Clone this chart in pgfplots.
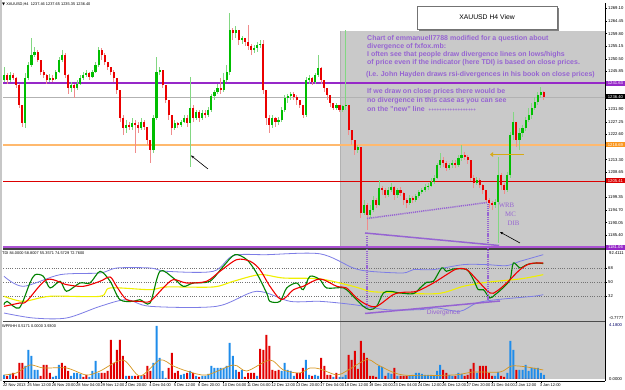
\documentclass[border=0pt]{standalone}
\usepackage{pgfplots}
\pgfplotsset{compat=1.18}
\usepackage{pgfplotstable}
\usepackage{fontspec}
\setmainfont{Liberation Sans}
\newfontfamily\serifz{Liberation Serif}
\newfontfamily\dejavu{DejaVu Sans}
\usetikzlibrary{arrows.meta}

\definecolor{bull}{RGB}{0,190,0}
\definecolor{bear}{RGB}{235,0,0}
\definecolor{bullwick}{RGB}{130,215,130}
\definecolor{bearwick}{RGB}{240,140,140}
\definecolor{boxgray}{RGB}{201,201,201}
\definecolor{note}{RGB}{150,100,210}
\definecolor{lvlpurple}{RGB}{150,40,200}
\definecolor{lvlorange}{RGB}{255,185,110}
\definecolor{lblorange}{RGB}{250,150,30}
\definecolor{lvlred}{RGB}{220,0,0}
\definecolor{band}{RGB}{125,125,230}
\definecolor{tdiyellow}{RGB}{240,240,0}
\definecolor{tdigreen}{RGB}{0,130,0}
\definecolor{tdired}{RGB}{240,0,0}
\definecolor{volblue}{RGB}{30,140,235}
\definecolor{volred}{RGB}{225,0,0}
\definecolor{volma}{RGB}{215,150,30}
\definecolor{goldarrow}{RGB}{215,170,20}

\pgfplotstableread{
i o h l c
0 1242.7 1247.5 1241.9 1244.5
1 1244.5 1245.3 1241.2 1242.7
2 1242.7 1245.6 1241.9 1244.5
3 1244.5 1245.3 1242.7 1243.4
4 1243.4 1243.8 1239.7 1240.8
5 1240.8 1241.2 1232.4 1233.5
6 1233.5 1233.5 1225.3 1226.8
7 1226.8 1245.3 1225.0 1243.4
8 1243.4 1249.3 1242.7 1248.2
9 1248.2 1258.2 1247.5 1251.9
10 1251.9 1254.9 1251.2 1253.0
11 1253.0 1253.8 1249.3 1250.1
12 1250.1 1250.1 1244.5 1245.6
13 1245.6 1246.4 1243.4 1244.5
14 1244.5 1244.9 1241.2 1242.7
15 1242.7 1244.9 1241.9 1243.4
16 1243.4 1244.5 1241.9 1243.0
17 1243.0 1246.4 1242.7 1245.6
18 1245.6 1251.2 1245.3 1250.1
19 1250.1 1253.8 1249.3 1251.9
20 1251.9 1252.5 1243.4 1244.5
21 1244.5 1244.9 1237.5 1239.7
22 1239.7 1241.9 1238.3 1240.8
23 1240.8 1241.2 1236.0 1239.7
24 1239.7 1242.7 1239.0 1241.2
25 1241.2 1244.5 1240.8 1243.4
26 1243.4 1245.6 1242.7 1244.5
27 1244.5 1246.4 1243.8 1245.3
28 1245.3 1245.6 1242.7 1243.8
29 1243.8 1246.4 1243.4 1245.6
30 1245.6 1249.3 1245.3 1248.2
31 1248.2 1254.9 1247.5 1253.8
32 1253.8 1254.5 1250.1 1251.9
33 1251.9 1252.5 1248.2 1249.3
34 1249.3 1249.3 1246.4 1247.5
35 1247.5 1247.5 1244.5 1245.6
36 1245.6 1246.4 1241.9 1243.4
37 1243.4 1243.4 1237.5 1239.0
38 1239.0 1239.0 1227.2 1228.7
39 1228.7 1229.8 1222.4 1225.0
40 1225.0 1227.9 1223.1 1226.1
41 1226.1 1227.2 1224.2 1225.3
42 1225.3 1228.7 1224.2 1226.8
43 1226.8 1227.9 1215.7 1226.1
44 1226.1 1227.2 1223.1 1225.0
45 1225.0 1228.7 1224.2 1227.2
46 1227.2 1227.9 1224.2 1225.3
47 1225.3 1225.3 1218.7 1220.5
48 1220.5 1220.5 1212.1 1216.9
49 1216.9 1229.8 1215.7 1228.7
50 1228.7 1251.2 1227.9 1245.6
51 1245.6 1247.5 1244.5 1246.4
52 1246.4 1246.4 1239.7 1240.8
53 1240.8 1240.8 1234.2 1235.3
54 1235.3 1235.3 1227.9 1229.8
55 1229.8 1229.8 1222.4 1225.0
56 1225.0 1227.9 1224.2 1226.8
57 1226.8 1227.2 1225.0 1226.1
58 1226.1 1227.9 1225.3 1227.2
59 1227.2 1229.8 1226.8 1228.7
60 1228.7 1229.8 1225.3 1226.8
61 1226.8 1243.8 1210.6 1232.4
62 1232.4 1233.5 1227.2 1228.7
63 1228.7 1231.6 1227.9 1230.9
64 1230.9 1231.6 1227.2 1228.7
65 1228.7 1231.6 1227.9 1230.5
66 1230.5 1231.6 1228.7 1229.8
67 1229.8 1232.7 1229.0 1231.6
68 1231.6 1237.5 1230.9 1236.8
69 1236.8 1239.0 1235.3 1238.3
70 1238.3 1241.2 1237.5 1239.7
71 1239.7 1243.4 1237.5 1239.0
72 1239.0 1245.3 1238.3 1242.7
73 1242.7 1248.2 1241.9 1245.6
74 1245.6 1267.4 1244.5 1261.1
75 1261.1 1262.0 1257.4 1260.0
76 1260.0 1262.5 1258.2 1261.1
77 1261.1 1261.1 1255.6 1257.4
78 1257.4 1259.0 1256.0 1258.2
79 1258.2 1258.2 1255.2 1256.7
80 1256.7 1263.0 1253.8 1255.2
81 1255.2 1256.0 1251.9 1253.8
82 1253.8 1255.6 1252.5 1254.5
83 1254.5 1256.7 1253.0 1255.6
84 1255.6 1257.4 1254.5 1256.0
85 1256.0 1257.4 1237.5 1239.0
86 1239.0 1239.0 1226.1 1228.7
87 1228.7 1229.8 1223.1 1226.1
88 1226.1 1229.8 1225.0 1228.7
89 1228.7 1229.0 1225.3 1227.2
90 1227.2 1229.0 1226.1 1227.9
91 1227.9 1232.7 1227.2 1231.6
92 1231.6 1237.1 1230.9 1236.0
93 1236.0 1237.5 1234.2 1236.8
94 1236.8 1238.3 1235.3 1237.5
95 1237.5 1238.3 1235.3 1236.4
96 1236.4 1237.1 1233.5 1235.3
97 1235.3 1235.3 1232.4 1233.5
98 1233.5 1233.5 1228.7 1229.8
99 1229.8 1243.8 1229.0 1242.7
100 1242.7 1244.5 1241.2 1243.4
101 1243.4 1243.8 1240.8 1241.9
102 1241.9 1245.3 1241.2 1244.5
103 1244.5 1251.9 1243.8 1247.1
104 1247.1 1247.5 1241.2 1242.7
105 1242.7 1242.7 1238.3 1239.7
106 1239.7 1239.7 1235.3 1237.1
107 1237.1 1237.1 1232.7 1234.2
108 1234.2 1234.2 1231.6 1232.4
109 1232.4 1234.2 1231.6 1233.5
110 1233.5 1233.5 1230.9 1231.6
111 1231.6 1233.5 1230.9 1233.1
112 1233.1 1261.1 1231.6 1233.5
113 1233.5 1233.5 1222.4 1224.2
114 1224.2 1224.2 1218.7 1220.5
115 1220.5 1220.5 1215.0 1216.9
116 1216.9 1218.7 1215.7 1218.0
117 1218.0 1218.0 1191.8 1193.6
118 1193.6 1198.4 1192.9 1196.6
119 1196.6 1197.3 1187.3 1192.9
120 1192.9 1196.6 1191.8 1194.7
121 1194.7 1199.9 1194.0 1198.4
122 1198.4 1199.1 1195.4 1196.6
123 1196.6 1205.8 1196.0 1202.8
124 1202.8 1203.6 1200.2 1202.1
125 1202.1 1202.8 1199.1 1200.2
126 1200.2 1203.2 1199.5 1202.1
127 1202.1 1204.7 1201.4 1203.2
128 1203.2 1203.6 1198.4 1200.2
129 1200.2 1202.8 1199.1 1202.1
130 1202.1 1203.2 1199.9 1201.0
131 1201.0 1201.4 1196.6 1198.4
132 1198.4 1199.1 1195.4 1197.3
133 1197.3 1200.2 1196.6 1199.1
134 1199.1 1199.9 1197.3 1198.4
135 1198.4 1200.6 1197.7 1199.9
136 1199.9 1202.1 1199.1 1201.4
137 1201.4 1202.8 1200.6 1202.1
138 1202.1 1204.3 1201.4 1203.2
139 1203.2 1204.7 1202.1 1203.6
140 1203.6 1206.5 1203.2 1205.0
141 1205.0 1207.6 1204.3 1206.5
142 1206.5 1212.1 1206.1 1211.3
143 1211.3 1215.7 1210.2 1213.2
144 1213.2 1214.3 1210.6 1212.1
145 1212.1 1212.8 1209.1 1210.2
146 1210.2 1212.1 1209.5 1211.3
147 1211.3 1213.2 1210.2 1212.1
148 1212.1 1213.2 1210.2 1211.3
149 1211.3 1215.0 1210.6 1213.9
150 1213.9 1218.7 1212.8 1215.0
151 1215.0 1216.1 1213.2 1214.3
152 1214.3 1215.0 1211.7 1213.2
153 1213.2 1213.2 1205.4 1206.5
154 1206.5 1207.6 1202.8 1204.7
155 1204.7 1206.9 1203.9 1205.8
156 1205.8 1206.5 1202.8 1203.9
157 1203.9 1204.3 1200.6 1202.1
158 1202.1 1202.1 1197.3 1198.4
159 1198.4 1199.1 1195.4 1197.3
160 1197.3 1198.0 1194.7 1196.6
161 1196.6 1198.8 1195.4 1197.7
162 1197.7 1214.3 1182.5 1207.6
163 1207.6 1208.3 1202.1 1203.9
164 1203.9 1204.7 1200.6 1202.1
165 1202.1 1208.7 1201.4 1207.6
166 1207.6 1223.5 1206.5 1222.4
167 1222.4 1230.9 1220.5 1227.2
168 1227.2 1227.2 1218.0 1220.5
169 1220.5 1225.0 1216.9 1223.1
170 1223.1 1226.1 1221.6 1225.0
171 1225.0 1229.0 1223.9 1227.9
172 1227.9 1232.4 1227.2 1229.8
173 1229.8 1234.2 1228.3 1232.4
174 1232.4 1236.4 1231.6 1234.6
175 1234.6 1238.3 1233.5 1237.1
176 1237.1 1240.1 1236.0 1238.3
177 1238.3 1238.6 1235.3 1236.4
}\candles

\pgfplotstableread{
i v
0 20.9
1 25.1
5 16.6
8.5 48.7
10.2 59.4
12.9 57.3
15.1 42.3
18.4 50.9
20.5 38.0
24.9 48.7
28.2 48.7
31.5 63.7
34.8 50.9
38.0 27.3
42.4 25.1
44.6 27.3
47.9 23.0
51.1 63.7
55.5 55.1
58.8 44.4
62.1 48.7
67.5 50.9
71.9 70.1
75.7 85.1
79.6 78.7
82.8 61.6
86.1 35.9
87.2 25.1
90.5 25.1
92.7 42.3
96.0 48.7
98.1 40.1
100.3 57.3
103.6 53.0
105.8 42.3
111.3 42.3
114.5 31.6
117.8 18.7
120.0 14.4
122.2 18.7
124.4 35.9
126.6 38.0
129.8 35.9
134.2 35.0
136.4 42.3
138.6 49.6
140.8 50.9
143.5 68.0
145.1 63.7
147.3 66.7
151.7 65.9
153.9 53.0
155.5 40.1
157.2 40.1
159.3 29.4
161.0 33.7
163.2 41.0
165.9 53.0
167.0 74.4
169.2 68.0
171.4 72.3
174.6 74.4
176.8 73.6
}\tdigreen

\pgfplotstableread{
i v
0 18.7
5.2 23.0
7.4 25.1
14.0 53.0
20.5 46.6
26.0 44.4
31.5 50.9
34.8 56.4
36.9 44.4
40.2 27.3
44.6 25.1
47.9 25.1
52.2 42.3
55.5 53.0
59.9 48.7
66.4 50.9
70.8 63.7
76.3 78.7
80.7 76.6
83.9 65.9
87.2 44.4
91.0 27.3
94.9 40.1
98.1 44.4
103.6 53.9
109.1 44.4
112.3 42.3
115.6 29.4
118.9 20.9
122.2 18.7
127.6 33.7
130.9 36.7
135.3 38.0
140.8 48.7
145.1 59.4
148.4 66.7
151.7 65.9
155.0 53.0
159.3 35.9
161.5 38.0
164.8 48.7
169.2 65.9
172.5 73.6
176.8 74.4
}\tdired

\pgfplotstableread{
i v
0 31.6
6.3 25.1
15.1 31.6
31.5 31.6
34.8 42.3
47.9 40.1
53.3 43.6
68.6 43.6
75.2 50.9
83.9 59.4
91.6 55.1
103.6 53.9
114.5 44.4
120.0 38.0
125.5 36.7
141.9 35.0
150.6 44.4
158.2 49.6
169.2 53.9
176.8 59.4
}\tdiyel

\pgfplotstableread{
i v
0 57.3
6.3 44.4
18.4 59.4
31.5 61.6
37.0 68.0
47.9 68.0
53.3 63.7
68.6 63.7
75.2 83.9
86.1 85.1
103.6 86.2
114.5 68.0
120.0 63.7
130.9 61.6
134.2 65.9
140.8 65.9
150.6 72.3
158.2 72.3
164.8 71.0
169.2 76.6
176.8 85.1
}\tdiup

\pgfplotstableread{
i v
0 10.1
9.6 3.7
20.5 3.7
31.5 18.7
40.2 27.3
47.9 18.7
69.7 18.7
82.8 38.0
93.8 25.1
103.6 25.1
114.5 20.9
125.5 14.4
136.4 14.4
141.9 16.6
149.5 12.3
155.0 23.0
161.5 27.3
173.5 31.6
176.8 33.7
}\tdilo

\pgfplotstableread{
i b r
0 4 0
1 0 3
2 5 0
3 0 6
4 0 3
5 0 16
6 0 16
7 13 0
8 29 0
9 23 0
10 9 0
11 9 0
12 0 3
13 0 14
14 0 14
15 0 6
16 2 0
17 3 0
18 14 0
19 0 16
20 0 13
21 0 8
22 3 0
23 6 0
24 6 0
25 5 0
26 0 2
27 0 4
28 2 0
29 8 0
30 18 0
31 6 0
32 0 6
33 0 6
34 0 8
35 0 39
36 0 16
37 0 29
38 0 39
39 0 23
40 3 0
41 0 3
42 3 0
43 0 3
44 0 3
45 3 0
46 0 4
47 0 13
48 0 8
49 16 0
50 53 0
51 21 0
52 8 0
53 1 0
54 0 11
55 0 26
56 0 6
57 0 8
58 4 0
59 5 0
60 0 6
61 8 0
62 0 6
63 3 0
64 0 2
65 3 0
66 3 0
67 5 0
68 13 0
69 11 0
70 11 0
71 11 0
72 11 0
73 13 0
74 36 0
75 23 0
76 9 0
77 0 7
78 9 0
79 0 2
80 0 6
81 0 6
82 0 6
83 3 0
84 0 30
85 0 29
86 0 44
87 0 33
88 0 9
89 0 8
90 0 9
91 8 0
92 16 0
93 9 0
94 8 0
95 3 0
96 0 6
97 0 6
98 0 11
99 19 0
100 4 0
101 0 3
102 4 0
103 3 0
104 0 21
105 0 13
106 0 4
107 0 4
108 2 0
109 0 6
110 2 0
111 2 0
112 4 0
113 0 24
114 0 19
115 0 28
116 0 10
117 0 38
118 0 26
119 0 21
120 0 3
121 0 3
122 0 2
123 13 0
124 12 0
125 0 3
126 6 0
127 5 0
128 0 11
129 3 0
130 0 3
131 0 3
132 0 3
133 3 0
134 4 0
135 6 0
136 6 0
137 5 0
138 4 0
139 4 0
140 4 0
141 3 0
142 8 0
143 14 0
144 0 9
145 0 6
146 4 0
147 3 0
148 0 3
149 6 0
150 5 0
151 0 3
152 0 4
153 0 10
154 0 16
155 6 0
156 0 13
157 0 13
158 0 13
159 0 6
160 0 3
161 3 0
162 7 0
163 0 3
164 0 2
165 6 0
166 38 0
167 29 0
168 0 9
169 9 0
170 9 0
171 14 0
172 8 0
173 11 0
174 11 0
175 11 0
176 6 0
177 4 0
}\vol

\pgfplotstableread{
i v
0 4
4 6
8.5 14
12.9 11
20.5 11
27 4
31.5 8
39 19
44.6 3
51.1 19
55.5 13
59.9 8
66.4 4
75.2 14
79.6 8
87.2 19
91.6 9
97 6
100.3 11
103.6 10
109.1 4
112.3 8
117.8 18
120 19
123.3 13
130.9 4
147.3 4
153.9 7
162.6 7
166.4 13
171.4 12
176.8 9
}\volma

\pgfplotsset{
  panel/.style={scale only axis, anchor=south west, width=602pt,
    xmin=-0.33, xmax=197.05,
    axis x line*=bottom, axis y line*=right,
    axis line style={-, black, line width=0.6pt},
    tick align=outside, major tick length=2pt,
    tick style={black, line width=0.4pt},
    yticklabel style={font=\fontsize{4.2}{4.2}\selectfont, inner sep=1pt},
  },
  wick/.style 2 args={draw=none, forget plot,
    error bars/.cd, y dir=both, y explicit, error mark=none,
    error bar style={draw=#1, line width=#2}, /pgfplots/.cd},
}

\begin{document}
\begin{tikzpicture}[x=1pt,y=1pt]
\path[use as bounding box, fill=white] (0,0) rectangle (625,390);
% shaded rectangle object spanning the three panels
\fill[boxgray] (340,11) rectangle (606,359);
\draw[black!30, line width=0.6pt] (340.3,11) -- (340.3,359);
\fill[black!22] (0,9) rectangle (1.6,390);

% ---------- price panel ----------
\begin{axis}[panel, at={(3pt,141pt)}, height=246pt,
  ymin=1180.3, ymax=1271.1, xtick=\empty,
  x axis line style={draw=black!75, line width=1.3pt},
  ytick={1185.40,1190.05,1194.70,1199.35,1208.65,1213.30,1222.60,1227.25,1231.90,1245.85,1250.50,1255.15,1259.80,1264.45,1269.10},
  yticklabels={1185.40,1190.05,1194.70,1199.35,1208.65,1213.30,1222.60,1227.25,1231.90,1245.85,1250.50,1255.15,1259.80,1264.45,1269.10}]
\draw[black!30, line width=0.5pt] (axis cs:-1,1236.4) -- (axis cs:198,1236.4);
\draw[lvlpurple, line width=1.3pt] (axis cs:-1,1241.6) -- (axis cs:198,1241.6);
\draw[lvlorange, line width=1.6pt] (axis cs:-1,1218.7) -- (axis cs:198,1218.7);
\draw[lvlred, line width=0.8pt] (axis cs:-1,1205.4) -- (axis cs:198,1205.4);
\draw[lvlpurple!80, line width=1.6pt] (axis cs:-1,1181.1) -- (axis cs:198,1181.1);
% wicks
\addplot[restrict expr to domain={\thisrow{c}-\thisrow{o}}{0:1000}, wick={bullwick}{0.8pt}]
  table[x=i, y expr={(\thisrow{h}+\thisrow{l})/2}, y error expr={(\thisrow{h}-\thisrow{l})/2}] {\candles};
\addplot[restrict expr to domain={\thisrow{o}-\thisrow{c}}{0.001:1000}, wick={bearwick}{0.8pt}]
  table[x=i, y expr={(\thisrow{h}+\thisrow{l})/2}, y error expr={(\thisrow{h}-\thisrow{l})/2}] {\candles};
% bodies
\addplot[restrict expr to domain={\thisrow{c}-\thisrow{o}}{0:1000}, wick={bull}{2.1pt}]
  table[x=i, y expr={(\thisrow{o}+\thisrow{c})/2}, y error expr={max(abs(\thisrow{c}-\thisrow{o})/2,0.2)}] {\candles};
\addplot[restrict expr to domain={\thisrow{o}-\thisrow{c}}{0.001:1000}, wick={bear}{2.1pt}]
  table[x=i, y expr={(\thisrow{o}+\thisrow{c})/2}, y error expr={max(abs(\thisrow{c}-\thisrow{o})/2,0.2)}] {\candles};
\end{axis}

% ---------- TDI panel ----------
\begin{axis}[panel, at={(3pt,68.5pt)}, height=72.5pt,
  ymin=-0.8, ymax=92.4, xtick=\empty,
  x axis line style={draw=black!70, line width=1.3pt},
  ytick={32,50,68}, yticklabels={32,50,68}]
\draw[black!55, dash pattern=on 1pt off 1.3pt, line width=0.4pt] (axis cs:-1,32) -- (axis cs:198,32);
\draw[black!55, dash pattern=on 1pt off 1.3pt, line width=0.4pt] (axis cs:-1,50) -- (axis cs:198,50);
\draw[black!55, dash pattern=on 1pt off 1.3pt, line width=0.4pt] (axis cs:-1,68) -- (axis cs:198,68);
\addplot[band, line width=0.8pt, smooth, tension=0.5] table[x=i,y=v] {\tdiup};
\addplot[band, line width=0.8pt, smooth, tension=0.5] table[x=i,y=v] {\tdilo};
\addplot[tdiyellow, line width=1.1pt, smooth, tension=0.5] table[x=i,y=v] {\tdiyel};
\addplot[tdigreen, line width=1.1pt, smooth, tension=0.5] table[x=i,y=v] {\tdigreen};
\addplot[tdired, line width=1.1pt, smooth, tension=0.5] table[x=i,y=v] {\tdired};
\end{axis}

% ---------- volume panel ----------
\begin{axis}[panel, at={(3pt,9pt)}, height=59.5pt,
  ymin=-2, ymax=57.5, ytick=\empty,
  xtick={0,8,...,176},
  xticklabels={22 Nov 2013,25 Nov 12:00,26 Nov 20:00,28 Nov 04:00,29 Nov 12:00,2 Dec 20:00,4 Dec 04:00,5 Dec 12:00,6 Dec 20:00,10 Dec 04:00,11 Dec 04:00,12 Dec 12:00,13 Dec 20:00,17 Dec 04:00,18 Dec 12:00,19 Dec 20:00,23 Dec 04:00,24 Dec 12:00,26 Dec 12:00,27 Dec 20:00,31 Dec 04:00,2 Jan 12:00,3 Jan 12:00},
  xticklabel style={font=\fontsize{4}{4}\selectfont, anchor=north west, xshift=-2.2pt, inner sep=1pt}]
\addplot[ybar, bar width=2pt, bar shift=0pt, fill=volblue, draw=none] table[x=i,y=b] {\vol};
\addplot[ybar, bar width=2pt, bar shift=0pt, fill=volred, draw=none] table[x=i,y=r] {\vol};
\addplot[volma, line width=0.7pt, smooth, tension=0.5] table[x=i,y=v] {\volma};
\end{axis}

% ---------- annotations (image pixel coordinates) ----------
\begin{scope}[shift={(0,390)}, x=1pt, y=-1pt]
\node[anchor=west, inner sep=0, font=\fontsize{3.9}{4}\selectfont] at (2,4.5) {{\dejavu ▼} XAUUSD,H4\ \ 1237.46 1237.65 1235.35 1236.40};
\node[anchor=west, inner sep=0, font=\fontsize{3.9}{4}\selectfont] at (2,253.5) {TDI 84.0000 58.8007 55.3571 74.5729 72.7600};
\node[anchor=west, inner sep=0, font=\fontsize{3.9}{4}\selectfont] at (2,326) {WPRHH 0.5171 0.0000 3.9300};
% title box
\fill[black!50] (419,8) rectangle (559,31);
\draw[fill=white, draw=black!55, line width=0.5pt] (417,6) rectangle (557,29);
\node[font=\fontsize{6.8}{8}\selectfont] at (487,17.5) {XAUUSD H4 View};
% note text
\begin{scope}[every node/.style={anchor=west, inner sep=0, text=note, font=\fontsize{7}{8}\selectfont\bfseries}]
\node at (367,38.3) {Chart of emmanuell7788 modified for a question about};
\node at (367,46.7) {divergence of fxfox.mb:};
\node at (367,54.5) {I often see that people draw divergence lines on lows/highs};
\node at (367,62.5) {of price even if the indicator (here TDI) is based on close prices.};
\node at (366,75) {(I.e. John Hayden draws rsi-divergences in his book on close prices)};
\node at (367,91.7) {If we draw on close prices there would be};
\node at (367,100.5) {no divergence in this case as you can see};
\node at (367,108.7) {on the "new" line\ \ {\fontsize{4.5}{5}\selectfont ++++++++++++++++++}};
\end{scope}
% divergence lines
\draw[note, line width=1.5pt] (365,233) -- (499,245.5);
\draw[note, line width=1.5pt, dash pattern=on 1.2pt off 0.9pt] (367,218.5) -- (487,202.5);
\draw[note, line width=1.4pt, dash pattern=on 1.2pt off 0.9pt] (367,236) -- (367,308);
\draw[note, line width=1.4pt, dash pattern=on 1.2pt off 0.9pt] (488,204) -- (488,300);
\draw[note, line width=1.5pt] (365,313.5) -- (500,301);
\node[text=note, font=\fontsize{6.6}{7}\selectfont] at (443.5,313) {Divergence};
\node[text=note, font=\serifz\fontsize{6.8}{7}\selectfont] at (506.5,205) {WRB};
\node[text=note, font=\serifz\fontsize{6.8}{7}\selectfont] at (510.5,214) {MC};
\node[text=note, font=\serifz\fontsize{6.8}{7}\selectfont] at (513.5,223) {DIB};
% arrows
\draw[black, line width=0.6pt, -{Stealth[length=3.2pt,width=2.6pt]}] (208,169) -- (191,155.5);
\draw[black, line width=0.6pt, -{Stealth[length=3.2pt,width=2.6pt]}] (520,243) -- (500,232);
\draw[goldarrow, line width=1.8pt, -{Triangle[length=3pt,width=4.5pt]}] (524,154.5) -- (490,154.5);
% right-axis price tags
\begin{scope}[every node/.style={anchor=west, inner sep=0.7pt, minimum width=18.5pt, minimum height=5pt, text=white, font=\fontsize{4.2}{4.2}\selectfont}]
\node[fill=lvlpurple] at (606,83.3) {1241.63};
\node[fill=black] at (606,97) {1236.40};
\node[fill=lblorange] at (606,145) {1218.69};
\node[fill=lvlred] at (606,181) {1205.41};
\node[fill=lvlpurple] at (606,247.5) {1181.06};
\end{scope}
\begin{scope}[every node/.style={anchor=west, inner sep=0, font=\fontsize{4.2}{4.2}\selectfont}]
\node at (609,253.5) {92.4111};
\node at (609,318.5) {-0.7777};
\node[text=black!60!blue] at (609,325.5) {4.1800};
\node at (609,379) {0.0000};
\end{scope}
\end{scope}
\end{tikzpicture}
\end{document}
